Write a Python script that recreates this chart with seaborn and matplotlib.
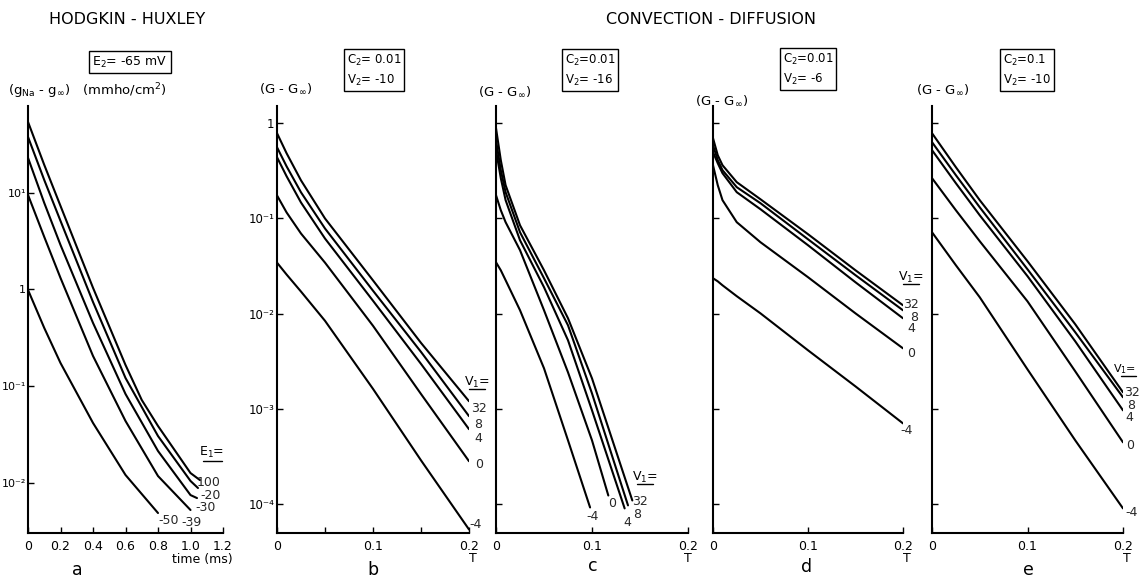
import matplotlib
matplotlib.use("Agg")
import matplotlib.pyplot as plt
import numpy as np
import pandas as pd
import seaborn as sns
from matplotlib.lines import Line2D
from matplotlib.ticker import FixedLocator, FixedFormatter, NullLocator

# ---------------- data ----------------
# (a) Hodgkin-Huxley: g_Na - g_inf (mmho/cm2) vs time (ms), one curve per E1
HH_E1 = ["100", "-20", "-30", "-39", "-50"]
HH_T_100 = [0, 0.1, 0.2, 0.4, 0.6, 0.7, 0.8, 1.0, 1.058]
HH_G_100 = [54.4, 19.5, 7.33, 1.04, 0.165, 0.0716, 0.0385, 0.01253, 0.0106]
HH_T_M20 = [0, 0.1, 0.2, 0.4, 0.6, 0.8, 1.0, 1.046]
HH_G_M20 = [38.0, 13.6, 5.13, 0.741, 0.121, 0.0303, 0.01038, 0.00877]
HH_T_M30 = [0, 0.1, 0.2, 0.4, 0.6, 0.8, 1.0, 1.04]
HH_G_M30 = [23.1, 7.87, 2.89, 0.45, 0.0826, 0.0212, 0.00741, 0.0069]
HH_T_M39 = [0, 0.1, 0.2, 0.4, 0.6, 0.8, 1.0]
HH_G_M39 = [9.53, 3.50, 1.315, 0.2046, 0.0434, 0.01167, 0.00519]
HH_T_M50 = [0, 0.1, 0.2, 0.4, 0.6, 0.8]
HH_G_M50 = [0.989, 0.399, 0.173, 0.0414, 0.01197, 0.00483]

# (b)-(e) convection-diffusion: G - G_inf vs T, one curve per V1
V1 = ["32", "8", "4", "0", "-4"]

B_T = [0, 0.01, 0.025, 0.05, 0.1, 0.15, 0.2]
B_G_32 = [0.785, 0.483, 0.251, 0.1, 0.0224, 0.00495, 0.00121]
B_G_8 = [0.559, 0.352, 0.188, 0.0785, 0.01746, 0.00398, 0.000844]
B_G_4 = [0.439, 0.277, 0.147, 0.0616, 0.0137, 0.00298, 0.000616]
B_G_0 = [0.1746, 0.1156, 0.0695, 0.0344, 0.00748, 0.00144, 0.000284]
B_G_M4 = [0.0344, 0.0258, 0.0171, 0.00844, 0.00163, 0.00029, 0.0000546]

C_T_32 = [0, 0.005, 0.01, 0.025, 0.05, 0.075, 0.1, 0.142]
C_G_32 = [0.886, 0.409, 0.2234, 0.0849, 0.0286, 0.00897, 0.0021, 0.00011]
C_T_8 = [0, 0.005, 0.01, 0.025, 0.05, 0.075, 0.1, 0.1375]
C_G_8 = [0.663, 0.321, 0.1887, 0.0717, 0.0236, 0.00757, 0.00146, 0.0000977]
C_T_4 = [0, 0.005, 0.01, 0.025, 0.05, 0.075, 0.1, 0.134]
C_G_4 = [0.521, 0.265, 0.1556, 0.0591, 0.019, 0.00527, 0.00097, 0.0000908]
C_T_0 = [0, 0.005, 0.01, 0.025, 0.05, 0.075, 0.1, 0.117]
C_G_0 = [0.1754, 0.122, 0.0914, 0.0465, 0.0109, 0.00243, 0.00047, 0.000124]
C_T_M4 = [0, 0.005, 0.01, 0.025, 0.05, 0.075, 0.098]
C_G_M4 = [0.0347, 0.0286, 0.0225, 0.0109, 0.00268, 0.00047, 0.0000929]

D_T = [0, 0.005, 0.01, 0.025, 0.05, 0.1, 0.15, 0.2]
D_G_32 = [0.696, 0.461, 0.362, 0.2404, 0.159, 0.0684, 0.0286, 0.01228]
D_G_8 = [0.587, 0.409, 0.321, 0.213, 0.1445, 0.0605, 0.0254, 0.01088]
D_G_4 = [0.496, 0.380, 0.2985, 0.1887, 0.125, 0.0524, 0.0214, 0.00897]
D_G_0 = [0.362, 0.2234, 0.1556, 0.0914, 0.0563, 0.0242, 0.0101, 0.00434]
D_G_M4 = [0.0236, 0.0219, 0.0199, 0.0153, 0.0101, 0.00414, 0.00173, 0.000708]

E_T = [0, 0.025, 0.05, 0.1, 0.15, 0.2]
E_G_32 = [0.785, 0.345, 0.1556, 0.0356, 0.00776, 0.0015]
E_G_8 = [0.632, 0.2845, 0.131, 0.0293, 0.0064, 0.00133]
E_G_4 = [0.521, 0.2344, 0.108, 0.0248, 0.00514, 0.00097]
E_G_0 = [0.265, 0.122, 0.0577, 0.0135, 0.00249, 0.000448]
E_G_M4 = [0.0717, 0.0323, 0.0149, 0.00261, 0.00047, 0.0000908]

# tick labels
A_XTICKS = ["0", "0.2", "0.4", "0.6", "0.8", "1.0", "1.2"]
A_YTICKS = ["10¹", "1", "10⁻¹", "10⁻²"]
B_YTICKS = ["1", "10⁻¹", "10⁻²", "10⁻³", "10⁻⁴"]
T_XTICKS = ["0", "0.1", "0.2"]

# ---------------- figure ----------------
W, H = 1140, 581
sns.set_theme(style="ticks")
plt.rcParams["font.family"] = ["DejaVu Sans"]
plt.rcParams["mathtext.default"] = "regular"
plt.rcParams["axes.facecolor"] = "white"
plt.rcParams["figure.facecolor"] = "white"

fig = plt.figure(figsize=(W / 100, H / 100), dpi=100)


def px_axes(x0, x1, y_top=106, y_bot=533):
    return fig.add_axes([x0 / W, 1 - y_bot / H, (x1 - x0) / W, (y_bot - y_top) / H])


def ftext(x, y, s, **kw):
    kw.setdefault("ha", "center")
    kw.setdefault("va", "center")
    kw.setdefault("color", "black")
    fig.text(x / W, 1 - y / H, s, **kw)


def underline(x0, x1, y):
    fig.add_artist(Line2D([x0 / W, x1 / W], [1 - y / H] * 2, color="black", lw=1.0))


def curves_frame(names, times, values):
    rows = []
    for n, t, g in zip(names, times, values):
        for ti, gi in zip(t, g):
            rows.append({"T": ti, "G": gi, "curve": n})
    return pd.DataFrame(rows)


def draw(ax, df, names):
    sns.lineplot(data=df, x="T", y="G", hue="curve", hue_order=names,
                 palette=["black"] * len(names), estimator=None, sort=False,
                 legend=False, lw=1.5, ax=ax)
    ax.set_yscale("log")
    ax.set_xlabel("")
    ax.set_ylabel("")
    sns.despine(ax=ax)
    for s in ("left", "bottom"):
        ax.spines[s].set_linewidth(1.5)
        ax.spines[s].set_color("black")
    ax.tick_params(axis="both", which="both", direction="in", length=4, width=1.0,
                   labelsize=9, colors="black", pad=5)
    ax.tick_params(axis="y", labelsize=8.5, pad=2)
    ax.yaxis.set_minor_locator(NullLocator())


def label_ends(ax, names, times, values, offsets):
    for n, t, g, (dx, dy) in zip(names, times, values, offsets):
        ax.annotate(n, xy=(t[-1], g[-1]), xytext=(dx, dy), textcoords="offset pixels",
                    ha="center", va="center", fontsize=9, annotation_clip=False)


box = dict(boxstyle="square,pad=0.25", fc="white", ec="black", lw=1.0)

# ---- (a) ----
ax_a = px_axes(28, 223)
a_times = [HH_T_100, HH_T_M20, HH_T_M30, HH_T_M39, HH_T_M50]
a_vals = [HH_G_100, HH_G_M20, HH_G_M30, HH_G_M39, HH_G_M50]
draw(ax_a, curves_frame(HH_E1, a_times, a_vals), HH_E1)
ax_a.set_xlim(0, 1.2)
ax_a.set_ylim(10 ** -2.523, 10 ** 1.9)
ax_a.xaxis.set_major_locator(FixedLocator([0, 0.2, 0.4, 0.6, 0.8, 1.0, 1.2]))
ax_a.xaxis.set_major_formatter(FixedFormatter(A_XTICKS))
ax_a.yaxis.set_major_locator(FixedLocator([10, 1, 0.1, 0.01]))
ax_a.yaxis.set_major_formatter(FixedFormatter(A_YTICKS))
ax_a.tick_params(axis="y", labelsize=8, pad=1.5)
label_ends(ax_a, HH_E1, a_times, a_vals, [(9, -2), (13, -7), (9, -9), (1, -12), (11, -7)])

# ---- (b)-(e) ----
panels = [
    ("b", 277, 469, [B_T] * 5, [B_G_32, B_G_8, B_G_4, B_G_0, B_G_M4],
     [(10, -7), (9, -8), (9, -9), (10, -3), (7, 5)]),
    ("c", 496, 688, [C_T_32, C_T_8, C_T_4, C_T_0, C_T_M4], [C_G_32, C_G_8, C_G_4, C_G_0, C_G_M4],
     [(8, -1), (9, -9), (3, -14), (4, -8), (2, -9)]),
    ("d", 713, 903, [D_T] * 5, [D_G_32, D_G_8, D_G_4, D_G_0, D_G_M4],
     [(8, 1), (11, -7), (8, -10), (8, -5), (4, -7)]),
    ("e", 932, 1123, [E_T] * 5, [E_G_32, E_G_8, E_G_4, E_G_0, E_G_M4],
     [(9, 0), (8, -8), (6, -7), (7, -3), (9, -4)]),
]
axes = {}
for key, x0, x1, times, vals, offs in panels:
    ax = px_axes(x0, x1)
    draw(ax, curves_frame(V1, times, vals), V1)
    ax.set_xlim(0, 0.2)
    ax.set_ylim(10 ** -4.3, 10 ** 0.18)
    ax.xaxis.set_major_locator(FixedLocator([0, 0.1, 0.2]))
    ax.xaxis.set_major_formatter(FixedFormatter(T_XTICKS))
    ax.yaxis.set_major_locator(FixedLocator([1, 1e-1, 1e-2, 1e-3, 1e-4]))
    if key == "b":
        ax.yaxis.set_major_formatter(FixedFormatter(B_YTICKS))
        ax.xaxis.set_minor_locator(FixedLocator([0.05, 0.15]))
    else:
        ax.yaxis.set_major_formatter(FixedFormatter([""] * 5))
    label_ends(ax, V1, times, vals, offs)
    axes[key] = ax

# ---- headings and annotations ----
ftext(127, 19, "HODGKIN - HUXLEY", fontsize=11.5)
ftext(711, 19, "CONVECTION - DIFFUSION", fontsize=11.5)

ftext(130, 62, "E$_2$= -65 mV", fontsize=9, bbox=box)
box_kw = dict(fontsize=8.5, bbox=box, linespacing=1.45, multialignment="left")
ftext(374, 70, "C$_2$= 0.01\nV$_2$= -10", **box_kw)
ftext(590, 70, "C$_2$=0.01\nV$_2$= -16", **box_kw)
ftext(808, 69, "C$_2$=0.01\nV$_2$= -6", **box_kw)
ftext(1027, 70, "C$_2$=0.1\nV$_2$= -10", **box_kw)

ftext(8, 91, "(g$_{Na}$ - g$_{\\infty}$)   (mmho/cm$^{2}$)", fontsize=9.5, ha="left")
ftext(286, 89, "(G - G$_{\\infty}$)", fontsize=9.5)
ftext(505, 92, "(G - G$_{\\infty}$)", fontsize=9.5)
ftext(722, 101, "(G - G$_{\\infty}$)", fontsize=9.5)
ftext(943, 90, "(G - G$_{\\infty}$)", fontsize=9.5)

# curve-family headers
ftext(212, 452, "E$_1$=", fontsize=9)
underline(203, 222, 461)
for cx, cy in [(477, 382), (645, 477), (911, 277)]:
    ftext(cx, cy, "V$_1$=", fontsize=9)
    underline(cx - 8, cx + 8, cy + 7)
ftext(1136, 369, "V$_1$=", fontsize=8, ha="right")
underline(1121, 1136, 376)

# axis titles
ftext(202, 559, "time (ms)", fontsize=9)
for tx in (473, 688, 907, 1127):
    ftext(tx, 558, "T", fontsize=9)

# panel letters
for s, x, y in [("a", 77, 570), ("b", 373, 570), ("c", 593, 566), ("d", 807, 567), ("e", 1028, 570)]:
    ftext(x, y, s, fontsize=12.5)

fig.savefig("out.png", dpi=100, facecolor="white")
